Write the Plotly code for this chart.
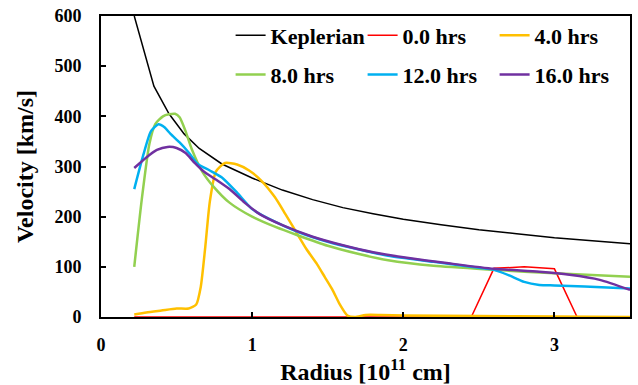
import plotly.graph_objects as go

# ---- data ----
kep_x = [0.22, 0.35, 0.45, 0.55, 0.65, 0.8, 1.0, 1.2, 1.4, 1.6, 1.8, 2.0, 2.25, 2.5, 2.75, 3.0, 3.25, 3.5]
kep_y = [600, 460, 405, 365, 336, 305, 277, 253, 234, 218, 206, 195, 184, 174, 166, 158, 152, 146]

h0_x = [0.22, 2.45, 2.6, 2.8, 3.0, 3.15, 3.5]
h0_y = [0, 0, 97, 100, 96, 0, 0]

h4_x = [0.22, 0.3, 0.4, 0.5, 0.58, 0.63, 0.66, 0.69, 0.72, 0.76, 0.82, 0.9, 0.98, 1.06, 1.15, 1.22, 1.29,
        1.36, 1.43, 1.48, 1.53, 1.58, 1.63, 1.68, 1.75, 1.85, 2.0, 2.5, 3.0, 3.5]
h4_y = [5, 9, 13, 17, 17, 25, 60, 140, 230, 290, 307, 304, 292, 272, 239, 205, 170,
        135, 105, 80, 55, 25, 3, 0, 4, 4, 3, 2, 1, 0]

h8_x = [0.22, 0.27, 0.32, 0.36, 0.41, 0.45, 0.49, 0.52, 0.56, 0.6, 0.67, 0.75, 0.85, 1.0, 1.15, 1.3,
        1.5, 1.7, 1.9, 2.2, 2.6, 3.0, 3.5]
h8_y = [100, 235, 345, 385, 400, 404, 405, 398, 370, 335, 290, 258, 228, 200, 180, 163,
        142, 126, 113, 102, 94, 87, 80]

h12_x = [0.22, 0.28, 0.33, 0.38, 0.42, 0.46, 0.52, 0.58, 0.64, 0.72, 0.8, 0.9, 1.0, 1.15, 1.3, 1.5,
         1.7, 1.9, 2.2, 2.5, 2.6, 2.7, 2.8, 2.9, 3.0, 3.2, 3.5]
h12_y = [255, 323, 370, 384, 378, 365, 348, 328, 305, 292, 278, 248, 215, 190, 170, 150,
         135, 122, 110, 98, 94, 83, 70, 64, 63, 61, 57]

h16_x = [0.22, 0.3, 0.37, 0.44, 0.5, 0.56, 0.62, 0.68, 0.76, 0.85, 0.95, 1.05, 1.2, 1.4, 1.6, 1.8,
         2.0, 2.3, 2.6, 2.9, 3.1, 3.3, 3.5]
h16_y = [297, 318, 333, 339, 337, 327, 307, 290, 274, 255, 228, 205, 183, 160, 143, 129,
         119, 107, 96, 90, 84, 74, 54]

series_names = ["Keplerian", "0.0 hrs", "4.0 hrs", "8.0 hrs", "12.0 hrs", "16.0 hrs"]
x_ticks = [0, 1, 2, 3]
y_ticks = [0, 100, 200, 300, 400, 500, 600]
x_title = "Radius [10<sup>11</sup> cm]"
y_title = "Velocity [km/s]"

FONT = "Liberation Serif"


def serif(t):
    return '<span style="font-family:Liberation Serif">' + str(t) + "</span>"


fig = go.Figure()
series = [
    (kep_x, kep_y, dict(color="black", width=1.5), "legend"),
    (h0_x, h0_y, dict(color="#FF0000", width=1.5), "legend"),
    (h4_x, h4_y, dict(color="#FFC000", width=2.5, shape="spline", smoothing=0.6), "legend"),
    (h8_x, h8_y, dict(color="#92D050", width=2.5, shape="spline", smoothing=0.6), "legend2"),
    (h12_x, h12_y, dict(color="#00B0F0", width=2.5, shape="spline", smoothing=0.6), "legend2"),
    (h16_x, h16_y, dict(color="#7030A0", width=2.5, shape="spline", smoothing=0.6), "legend2"),
]
for name, (sx, sy, ln, lg) in zip(series_names, series):
    fig.add_trace(go.Scatter(x=sx, y=sy, name=serif(name), mode="lines", line=ln, legend=lg))

leg_common = dict(orientation="h", xanchor="left", yanchor="top", entrywidth=87,
                  bgcolor="rgba(0,0,0,0)", itemwidth=30,
                  font=dict(family=FONT, size=22, color="black", weight="bold"))

fig.update_layout(
    width=638, height=385,
    margin=dict(l=101, r=6, t=13, b=62),
    paper_bgcolor="white", plot_bgcolor="white",
    font=dict(family=FONT, color="black"),
    legend=dict(x=0.245, y=1.005, **leg_common),
    legend2=dict(x=0.245, y=0.875, **leg_common),
    xaxis=dict(range=[0, 3.5], tickvals=x_ticks, ticktext=[serif(v) for v in x_ticks],
               ticks="inside", ticklen=5, tickwidth=1.5,
               tickcolor="black", showline=True, mirror=True, linecolor="black", linewidth=2,
               showgrid=False, zeroline=False, ticklabelstandoff=10,
               tickfont=dict(family=FONT, size=18, color="black", weight="bold"),
               title=dict(text=serif(x_title), standoff=8,
                          font=dict(family=FONT, size=24, color="black", weight="bold"))),
    yaxis=dict(range=[0, 600], tickvals=y_ticks, ticktext=[serif(v) for v in y_ticks],
               ticks="inside", ticklen=5, tickwidth=1.5,
               tickcolor="black", showline=True, mirror=True, linecolor="black", linewidth=2,
               showgrid=False, zeroline=False, ticklabelstandoff=14,
               tickfont=dict(family=FONT, size=18, color="black", weight="bold"),
               title=dict(text=serif(y_title), standoff=14,
                          font=dict(family=FONT, size=24, color="black", weight="bold"))),
)

fig.write_html("out.html")
